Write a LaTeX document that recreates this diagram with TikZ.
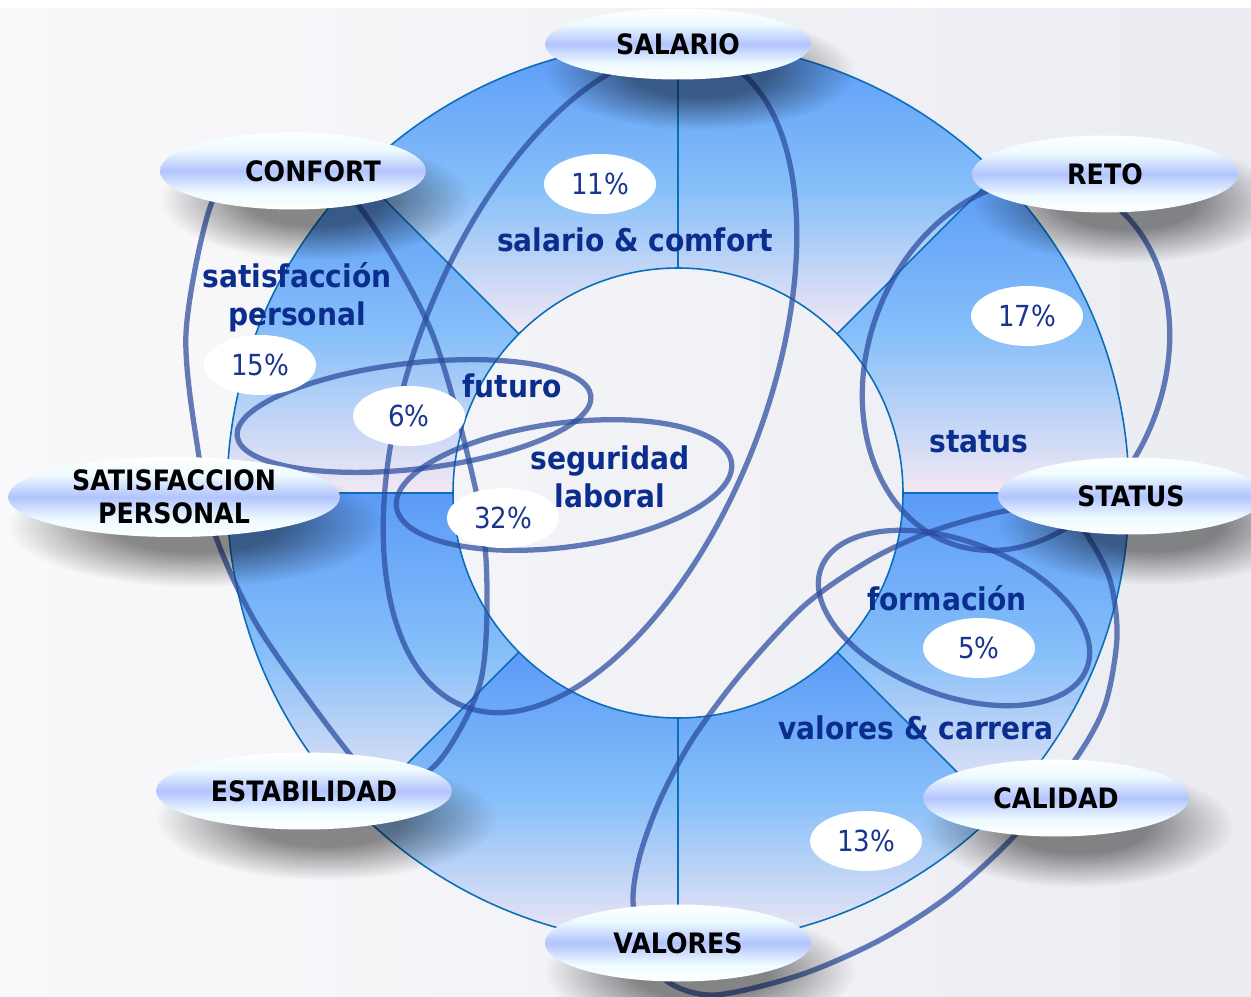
\documentclass[tikz,border=0pt]{standalone}
\usepackage{fontspec}
\setmainfont{DejaVu Sans}[FakeStretch=0.9]
\usetikzlibrary{shapes.geometric,fadings}
\definecolor{ringtop}{HTML}{5B9BF7}
\definecolor{ringmid}{HTML}{86BFF9}
\definecolor{ringbot}{HTML}{F3E8F4}
\definecolor{divline}{HTML}{0A6EB8}
\definecolor{loopblue}{HTML}{2A4B9E}
\definecolor{labtext}{HTML}{0B2E8E}
\definecolor{pcttext}{HTML}{1A3590}
\definecolor{tagblue}{HTML}{B2C4FD}
\definecolor{tagpale}{HTML}{EEFBFF}
\definecolor{bgleft}{HTML}{F9F9FB}
\definecolor{bgright}{HTML}{EBECF2}
\pgfdeclareverticalshading{tagshade}{100bp}{color(0bp)=(white); color(25bp)=(white);
  color(36bp)=(tagpale); color(50bp)=(tagblue); color(64bp)=(tagpale);
  color(75bp)=(white); color(100bp)=(white)}
\pgfdeclareradialshading{tagglow}{\pgfpointorigin}{color(0bp)=(white); color(11bp)=(white);
  color(25bp)=(black); color(50bp)=(black)}
\pgfdeclarefading{tagfade}{\pgfuseshading{tagglow}}
% soft shadow under a tag: centre x, centre y, x radius, y radius
\newcommand{\tagshadow}[4]{\fill[black, opacity=.45, path fading=tagfade]
  (#1+22,#2+28) ellipse (#3+22 and #4+22);}

\begin{document}
\begin{tikzpicture}[x=0.02cm, y=-0.02cm,
  tag/.style={ellipse, minimum width=5.32cm, minimum height=1.54cm, inner sep=0pt,
    shading=tagshade, font=\bfseries\fontsize{16}{19}\selectfont},
  pct/.style={ellipse, fill=white, minimum width=2.24cm, minimum height=1.2cm, inner sep=0pt,
    text=pcttext, font=\fontsize{16.5}{20}\selectfont},
  part/.style={text=labtext, font=\bfseries\fontsize{17.8}{21.6}\selectfont, align=center},
  loop/.style={draw=loopblue, draw opacity=.72, line width=3pt},
  sector/.style={top color=ringtop, bottom color=ringbot, middle color=ringmid},
  divider/.style={draw=divline, line width=0.9pt}]

\useasboundingbox (0,0) rectangle (1251,997);
\fill[left color=bgleft, right color=bgright] (0,9) rectangle (1251,997);

% ring of eight parts
\begin{scope}[shift={(678,493)}]
  \foreach \a [evaluate=\a as \b using \a+45] in {0,45,...,315}
    \fill[sector] (\a:225) arc[start angle=\a, end angle=\b, radius=225]
      -- (\b:451) arc[start angle=\b, end angle=\a, radius=451] -- cycle;
  \foreach \a in {0,45,...,315}
    \draw[divider] (\a:225) -- (\a:451);
  \draw[divider] (0,0) circle (225) (0,0) circle (451);
\end{scope}

% loops
\draw[loop, rotate around={68.8:(590,382)}] (590,382) ellipse (348 and 176);
\draw[loop] plot[smooth cycle] coordinates {(300,172) (358,205) (432,333) (478,500) (487,590)
  (480,684) (440,760) (390,790) (348,752) (260,630) (216,537) (199,457) (186,333) (212,202)
  (250,178)};
\draw[loop, rotate around={6.5:(414,416)}] (414,416) ellipse (178 and 53);
\draw[loop, rotate around={7.5:(564,485)}] (564,485) ellipse (169 and 62);
\draw[loop, rotate around={69.6:(1016,365)}] (1016,365) ellipse (190 and 148);
\draw[loop] plot[smooth cycle] coordinates {(1060,505) (1087,535) (1110,580) (1117,637)
  (1105,705) (1075,760) (1015,835) (950,895) (880,940) (800,975) (715,995) (668,982)
  (642,947) (633,900) (640,855) (660,800) (692,740) (740,675) (805,605) (870,560) (930,532)
  (1000,512)};
\draw[loop, rotate around={-20.6:(954,618)}] (954,618) ellipse (142 and 77);

% shares
\node[pct] (p11) at (600,184) {11\%};
\node[pct] (p15) at (260,365) {15\%};
\node[pct] (p6) at (409,416) {6\%};
\node[pct] (p32) at (503,518) {32\%};
\node[pct] (p17) at (1027,316) {17\%};
\node[pct] (p5) at (979,648) {5\%};
\node[pct] (p13) at (866,841) {13\%};

% part names
\node[part] (salcom) at (635,240) {salario \& comfort};
\node[part] (satpers) at (297,297) {satisfacción\\personal};
\node[part] (futuro) at (512,386) {futuro};
\node[part] (seglab) at (610,477) {seguridad\\laboral};
\node[part] (status) at (979,442) {status};
\node[part] (formac) at (947,598) {formación};
\node[part] (valcar) at (916,728) {valores \& carrera};

% tags
\tagshadow{678}{44}{133}{36}
\tagshadow{293}{171}{133}{39}
\tagshadow{1105}{174}{133}{39}
\tagshadow{174}{497}{166}{40}
\tagshadow{1131}{496}{133}{39}
\tagshadow{304}{791}{148}{39}
\tagshadow{1056}{798}{133}{39}
\tagshadow{678}{943}{133}{39}
\node[tag, minimum height=1.42cm] (salario) at (678,44) {SALARIO};
\node[tag] (confort) at (293,171) {\hspace*{0.8cm}CONFORT};
\node[tag] (reto) at (1105,174) {RETO};
\node[tag, minimum width=6.64cm, minimum height=1.6cm, align=center] (satisf) at (174,497) {SATISFACCION\\PERSONAL};
\node[tag] (statustag) at (1131,496) {STATUS};
\node[tag, minimum width=5.92cm] (estab) at (304,791) {ESTABILIDAD};
\node[tag] (calidad) at (1056,798) {CALIDAD};
\node[tag] (valores) at (678,943) {VALORES};
\end{tikzpicture}
\end{document}
